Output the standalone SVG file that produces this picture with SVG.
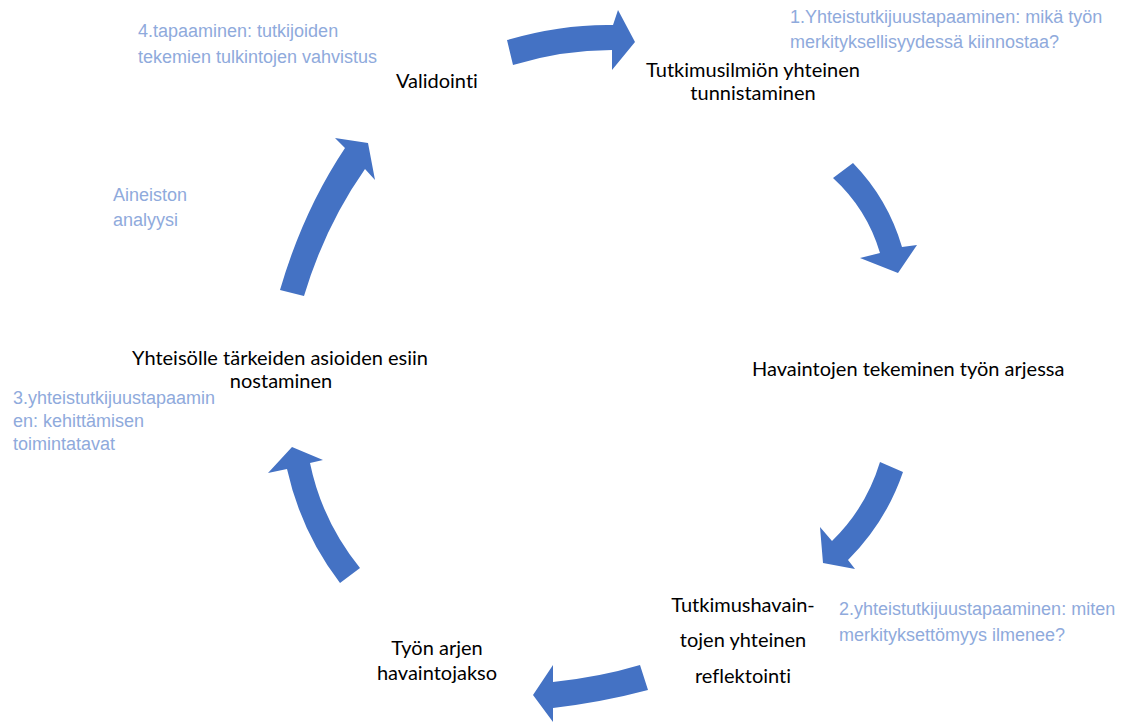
<svg xmlns="http://www.w3.org/2000/svg" width="1135" height="725" viewBox="0 0 1135 725">
<style>
.node{font-family:Lato,"Open Sans","Liberation Sans",sans-serif;font-size:20px;fill:#000;font-variant-ligatures:none;font-feature-settings:"liga" 0,"clig" 0}
.note{font-family:"Liberation Sans",Arial,sans-serif;font-size:18px;fill:#8FAADC}
.arrow{fill:#4472C4;stroke:none}
</style>
<rect width="1135" height="725" fill="#fff"/>
<g id="connectors">
<path class="arrow" d="M507,40 Q562,24 613,25 L618,10 L635,42 L612,70 L612,50 Q562,50 513,65 Z"/>
<path class="arrow" d="M853,163 Q888,199 902,247 L917,245 L898,273 L860,258 L880,253 Q867,209 833,178 Z"/>
<path class="arrow" d="M880,462 L903,472 Q886,522 848,560 L855,569 L823,563 L820,527 L832,541 Q866,508 880,462 Z"/>
<path class="arrow" d="M640,665 Q600,677 553,682 L553,665 L533,695 L553,722 L553,708 Q603,702 648,690 Z"/>
<path class="arrow" d="M287,469 Q301,532 340,583 L360,568 Q322,521 310,463 L323,460 L292,447 L268,473 Z"/>
<path class="arrow" d="M280,290 Q303,211 345,148 L335,138 L368,143 L375,180 L365,169 Q325,226 304,296 Z"/>
</g>
<g id="validointi"><text class="node" x="396" y="88">Validointi</text></g>
<g id="tunnistaminen"><text class="node" text-anchor="middle" x="753" y="77">Tutkimusilmiön yhteinen</text><text class="node" text-anchor="middle" x="753" y="100">tunnistaminen</text></g>
<g id="havaintojen-tekeminen"><text class="node" x="752" y="376">Havaintojen tekeminen työn arjessa</text></g>
<g id="reflektointi"><text class="node" text-anchor="middle" x="743" y="612">Tutkimushavain-</text><text class="node" text-anchor="middle" x="743" y="647">tojen yhteinen</text><text class="node" text-anchor="middle" x="743" y="683">reflektointi</text></g>
<g id="havaintojakso"><text class="node" text-anchor="middle" x="437" y="655">Työn arjen</text><text class="node" text-anchor="middle" x="437" y="680">havaintojakso</text></g>
<g id="nostaminen"><text class="node" text-anchor="middle" x="280" y="365">Yhteisölle tärkeiden asioiden esiin</text><text class="node" text-anchor="middle" x="281" y="388">nostaminen</text></g>
<g id="note-4"><text class="note" x="138" y="37">4.tapaaminen: tutkijoiden</text><text class="note" x="138" y="63">tekemien tulkintojen vahvistus</text></g>
<g id="note-1"><text class="note" x="790" y="23">1.Yhteistutkijuustapaaminen: mikä työn</text><text class="note" x="790" y="48">merkityksellisyydessä kiinnostaa?</text></g>
<g id="note-analyysi"><text class="note" x="113" y="201">Aineiston</text><text class="note" x="113" y="226">analyysi</text></g>
<g id="note-3"><text class="note" x="13" y="404">3.yhteistutkijuustapaamin</text><text class="note" x="13" y="427">en: kehittämisen</text><text class="note" x="13" y="450">toimintatavat</text></g>
<g id="note-2"><text class="note" x="839" y="615">2.yhteistutkijuustapaaminen: miten</text><text class="note" x="839" y="641">merkityksettömyys ilmenee?</text></g>
</svg>
